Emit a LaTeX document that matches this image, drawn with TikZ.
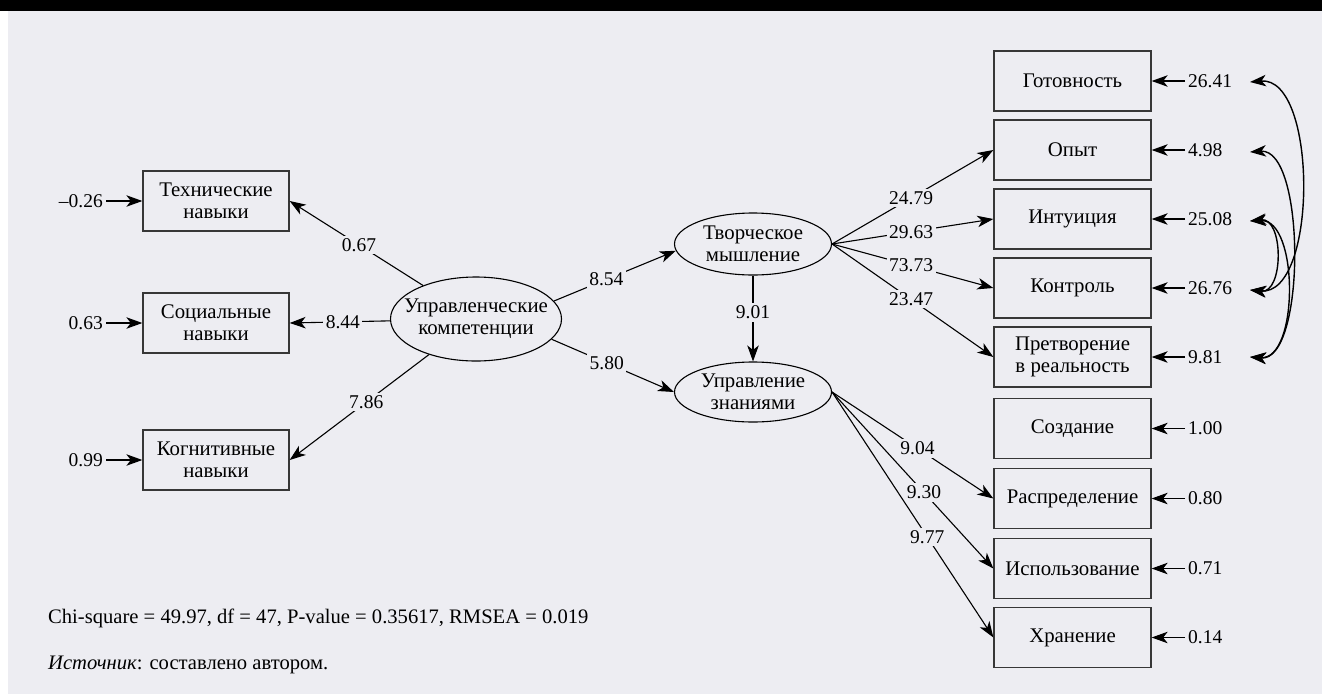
\documentclass[tikz,border=0pt]{standalone}
\usepackage{fontspec}
\setmainfont{Liberation Serif}
\usetikzlibrary{arrows.meta,shapes.geometric}
\definecolor{bg}{RGB}{237,237,242}
\definecolor{boxc}{RGB}{55,55,55}
\begin{document}
\begin{tikzpicture}[x=1pt,y=-1pt,
  every node/.style={font=\fontsize{19.5}{21.7}\selectfont},
  big/.style={font=\fontsize{20.8}{21.7}\selectfont},
  box/.style={draw=boxc, line width=1.3pt, minimum width=146pt, minimum height=60pt, inner sep=0pt, align=center, big},
  rbox/.style={box, minimum width=157pt},
  lat/.style={draw=black, ellipse, line width=1.1pt, inner sep=0pt},
  ltxt/.style={align=center, inner sep=0pt, big},
  arr/.style={line width=1.1pt, -{Stealth[length=16pt,width=11.5pt,inset=4.5pt]}},
  biarr/.style={line width=1.4pt, {Stealth[length=16pt,width=11.5pt,inset=4.5pt]}-{Stealth[length=16pt,width=11.5pt,inset=4.5pt]}},
  lbl/.style={fill=bg, inner sep=2.5pt},
  res/.style={inner sep=3pt}
]
\useasboundingbox (0,0) rectangle (1322,694);
\fill[black] (0,0) rectangle (1322,11);
\fill[bg] (8,11) rectangle (1322,694);

% left indicators
\node[box] (TN) at (216,201) {Технические\\навыки};
\node[box] (SN) at (216,323) {Социальные\\навыки};
\node[box] (KN) at (216,460) {Когнитивные\\навыки};

\node[res, anchor=east] (rTN) at (106,201) {–0.26};
\node[res, anchor=east] (rSN) at (106,323) {0.63};
\node[res, anchor=east] (rKN) at (106,460) {0.99};
\draw[arr] (rTN.east) -- (TN.west);
\draw[arr] (rSN.east) -- (SN.west);
\draw[arr] (rKN.east) -- (KN.west);

% latent variables
\node[lat, minimum width=171pt, minimum height=84pt] (UK) at (476,319) {};
\node[ltxt] (UKt) at (UK.center) {Управленческие\\компетенции};
\node[lat, minimum width=157pt, minimum height=62pt] (TM) at (753,244) {};
\node[ltxt] (TMt) at (TM.center) {Творческое\\мышление};
\node[lat, minimum width=157pt, minimum height=60pt] (UZ) at (753,392) {};
\node[ltxt] (UZt) at (UZ.center) {Управление\\знаниями};

\draw[arr] (UK) -- node[lbl, pos=.48] {0.67} (TN.east);
\draw[arr] (UK) -- node[lbl, pos=.47] {8.44} (SN.east);
\draw[arr] (UK) -- node[lbl, pos=.45] {7.86} (KN.east);
\draw[arr] (UK.13) -- node[lbl, pos=.43] {8.54} (TM.185);
\draw[arr] (UK.-15) -- node[lbl, pos=.45] {5.80} (UZ.west);
\draw[arr] (TM.south) -- node[lbl, pos=.43] {9.01} (UZ.north);

% right indicators
\node[rbox] (GO) at (1072.5,81) {Готовность};
\node[rbox] (OP) at (1072.5,150) {Опыт};
\node[rbox] (IN) at (1072.5,219) {Интуиция};
\node[rbox] (KO) at (1072.5,288) {Контроль};
\node[rbox] (PR) at (1072.5,357) {Претворение\\в реальность};
\node[rbox] (SO) at (1072.5,428.5) {Создание};
\node[rbox] (RA) at (1072.5,498.5) {Распределение};
\node[rbox] (IS) at (1072.5,568.5) {Использование};
\node[rbox] (HR) at (1072.5,637.5) {Хранение};

\draw[arr] (TM.east) -- node[lbl, pos=.49] {24.79} (OP.west);
\draw[arr] (TM.east) -- node[lbl, pos=.49] {29.63} (IN.west);
\draw[arr] (TM.east) -- node[lbl, pos=.49] {73.73} (KO.west);
\draw[arr] (TM.east) -- node[lbl, pos=.49] {23.47} (PR.west);

\draw[arr] (UZ.east) -- node[lbl, pos=.53] {9.04} (RA.west);
\draw[arr] (UZ.east) -- node[lbl, pos=.57] {9.30} (IS.west);
\draw[arr] (UZ.east) -- node[lbl, pos=.59] {9.77} (HR.west);

% right residuals
\node[res, anchor=west] (rGO) at (1185,81) {26.41};
\node[res, anchor=west] (rOP) at (1185,150) {4.98};
\node[res, anchor=west] (rIN) at (1185,219) {25.08};
\node[res, anchor=west] (rKO) at (1185,288) {26.76};
\node[res, anchor=west] (rPR) at (1185,357) {9.81};
\node[res, anchor=west] (rSO) at (1185,428.5) {1.00};
\node[res, anchor=west] (rRA) at (1185,498.5) {0.80};
\node[res, anchor=west] (rIS) at (1185,568.5) {0.71};
\node[res, anchor=west] (rHR) at (1185,637.5) {0.14};
\foreach \a/\b in {rGO/GO,rOP/OP,rIN/IN,rKO/KO,rPR/PR,rSO/SO,rRA/RA,rIS/IS,rHR/HR}
  \draw[arr] (\a.west) -- (\b.east);

% covariances
\coordinate (cGO) at (1250,82);
\coordinate (cOP) at (1250,152);
\coordinate (cIN) at (1250,221);
\coordinate (cKO) at (1250,290);
\coordinate (cPR) at (1250,357);
\draw[biarr] (cGO) .. controls (1318,76) and (1318,296) .. (cKO);
\draw[biarr] (cOP) .. controls (1306,148) and (1306,362) .. (cPR);
\draw[biarr] (cIN) .. controls (1284,217) and (1284,294) .. (cKO);
\draw[biarr] (cIN) .. controls (1299,219) and (1299,360) .. (cPR);

% footer
\node[anchor=west, inner sep=0pt, font=\fontsize{20.6}{24}\selectfont] (chi) at (48,618) {Chi-square = 49.97, df = 47, P-value = 0.35617, RMSEA = 0.019};
\node[anchor=west, inner sep=0pt, font=\fontsize{20.6}{24}\selectfont] (src) at (48,665) {\textit{Источник}: составлено автором.};
\end{tikzpicture}
\end{document}
